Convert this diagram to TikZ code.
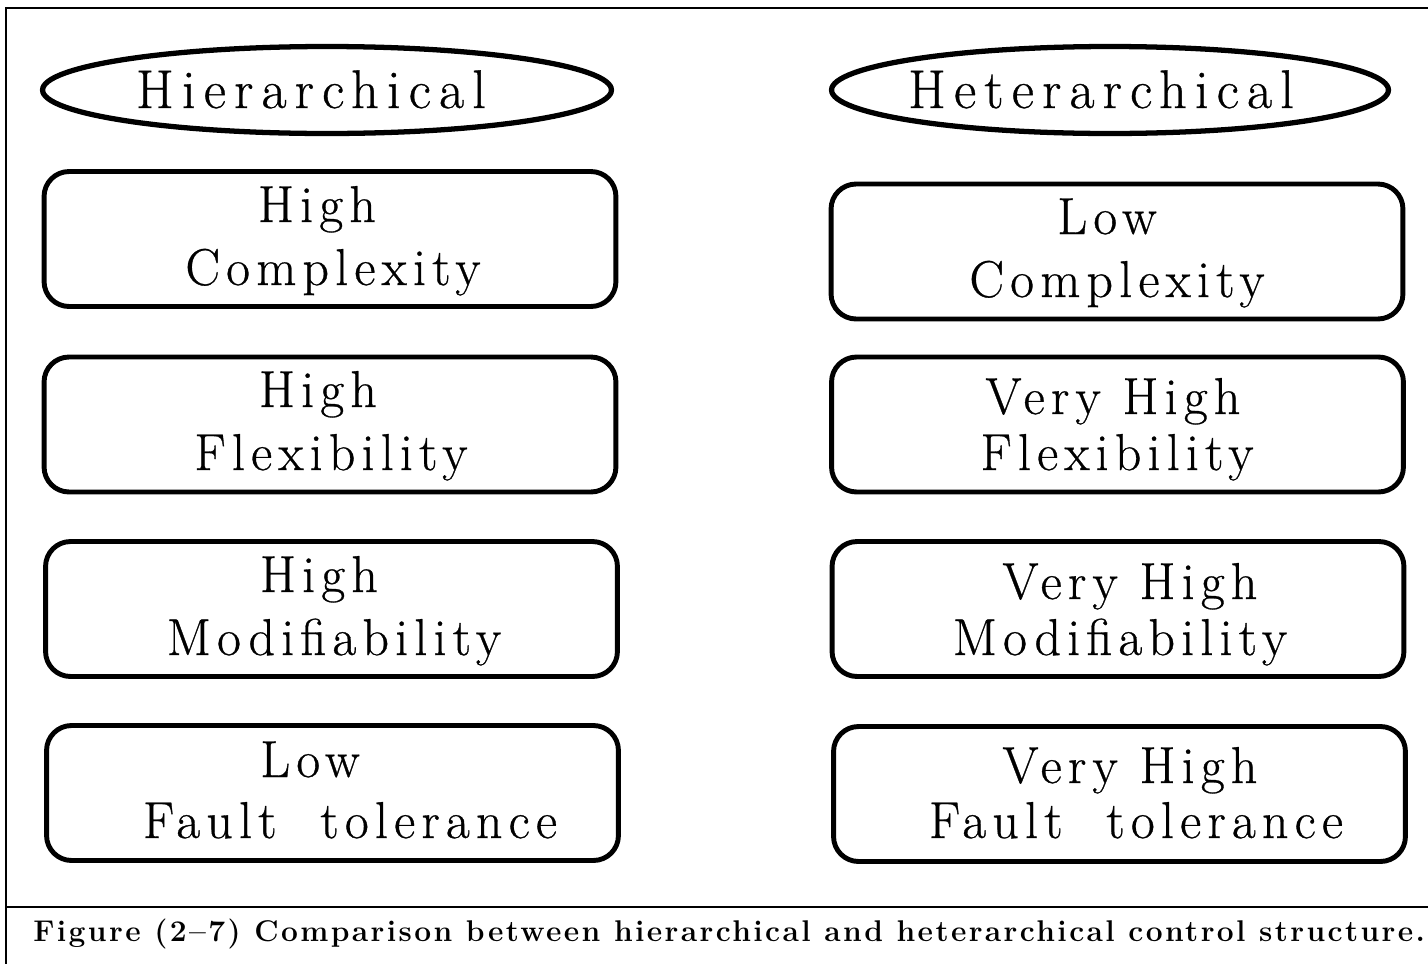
\documentclass[tikz,border=0pt]{standalone}
\usepackage{fontspec}
\setmainfont{Latin Modern Roman}
\newfontfamily\boxfont[LetterSpace=12,FakeBold=0.6]{Latin Modern Roman}
\newfontfamily\headfont[LetterSpace=15,FakeBold=0.6]{Latin Modern Roman}
\newfontfamily\capfont[LetterSpace=8]{Latin Modern Roman}
\usetikzlibrary{shapes.geometric}
\tikzset{
  pbox/.style={draw, line width=2.8pt, rounded corners=0.5cm, inner sep=0pt,
    minimum width=11.44cm, minimum height=2.7cm},
  pell/.style={draw, ellipse, line width=3pt, inner sep=0pt, minimum height=1.74cm},
  lbl/.style={anchor=base, inner sep=0pt, font=\boxfont\fontsize{29.5}{30}\selectfont},
  hlbl/.style={anchor=base, inner sep=0pt, font=\headfont\fontsize{31}{32}\selectfont},
  frame/.style={line width=1.1pt},
}
\begin{document}
\begin{tikzpicture}[x=0.02cm, y=-0.02cm]
\useasboundingbox (0,0) rectangle (1428,964);
% frame
\coordinate (fTL) at (6,8);
\coordinate (fTR) at (1428,8);
\coordinate (fBL) at (6,964);
\coordinate (sL) at (6,907);
\coordinate (sR) at (1428,907);
\draw[frame] (fBL) -- (fTL) -- (fTR);
\draw[frame] (sL) -- (sR);
% headers
\node[pell, minimum width=11.38cm] (eL) at (327,90) {};
\node[pell, minimum width=11.14cm] (eR) at (1110,90) {};
\node[hlbl] (tL) at (311,108) {Hierarchical};
\node[hlbl] (tR) at (1101,108) {Heterarchical};
% left boxes
\node[pbox] (L1) at (330,239) {};
\node[pbox] (L2) at (330,424.5) {};
\node[pbox] (L3) at (331.5,609) {};
\node[pbox] (L4) at (332.5,793) {};
\node[lbl] (L1a) at (317,222) {High};
\node[lbl] (L1b) at (333,285) {Complexity};
\node[lbl] (L2a) at (318,407) {High};
\node[lbl] (L2b) at (331,470) {Flexibility};
\node[lbl] (L3a) at (319,592) {High};
\node[lbl] (L3b) at (334,655) {Modifiability};
\node[lbl] (L4a) at (310,777) {Low};
\node[lbl] (L4b) at (350,838) {Fault\ \ tolerance};
% right boxes
\node[pbox] (R1) at (1117,251.5) {};
\node[pbox] (R2) at (1117.5,424.5) {};
\node[pbox] (R3) at (1118,609) {};
\node[pbox] (R4) at (1119.5,794) {};
\node[lbl] (R1a) at (1107,234) {Low};
\node[lbl] (R1b) at (1117,297) {Complexity};
\node[lbl] (R2a) at (1113,414) {Very High};
\node[lbl] (R2b) at (1117,470) {Flexibility};
\node[lbl] (R3a) at (1130,599) {Very High};
\node[lbl] (R3b) at (1120,655) {Modifiability};
\node[lbl] (R4a) at (1130,783) {Very High};
\node[lbl] (R4b) at (1136,838) {Fault\ \ tolerance};
% caption
\node[anchor=base west, inner sep=0pt, font=\capfont\bfseries\fontsize{17.05}{19}\selectfont] (cap) at (33,941)
  {Figure (2\textendash7) Comparison between hierarchical and heterarchical control structure.};
\end{tikzpicture}
\end{document}
